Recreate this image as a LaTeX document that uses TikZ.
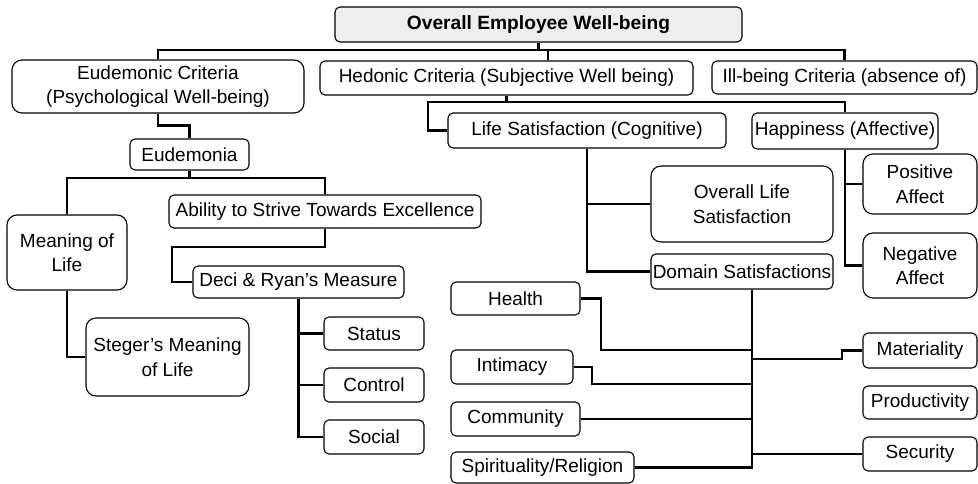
\documentclass[tikz,border=0pt]{standalone}
\usepackage{fontspec}
\setmainfont{Liberation Sans}
\tikzset{
  box/.style={draw=black, line width=1.1pt, rounded corners=5pt, fill=white, inner sep=0pt, align=center, font=\fontsize{19}{24.5}\selectfont},
  bigbox/.style={box, rounded corners=10pt},
  conn/.style={draw=black, line width=2.7pt}
}
\begin{document}
\begin{tikzpicture}[x=1pt,y=-1pt]
\useasboundingbox (0,0) rectangle (978,484);
% nodes
\node[box, minimum width=407pt, minimum height=35pt, fill=gray!13, font=\bfseries\fontsize{19.2}{22}\selectfont] (top) at (538.5,24.5) {Overall Employee Well-being};
\node[bigbox, minimum width=292pt, minimum height=53pt] (eud) at (158,86.5) {Eudemonic Criteria\\(Psychological Well-being)};
\node[box, minimum width=373pt, minimum height=34pt] (hed) at (506.5,78) {Hedonic Criteria (Subjective Well being)};
\node[box, minimum width=265pt, minimum height=33pt] (ill) at (844.5,77.5) {Ill-being Criteria (absence of)};
\node[box, minimum width=119pt, minimum height=31pt] (eudemonia) at (189.5,154.5) {Eudemonia};
\node[bigbox, minimum width=120pt, minimum height=75pt] (meaning) at (67,252.5) {Meaning of\\Life};
\node[box, minimum width=312pt, minimum height=33pt] (ability) at (325,211.5) {Ability to Strive Towards Excellence};
\node[box, minimum width=211pt, minimum height=32pt] (deci) at (298.5,282) {Deci \& Ryan's Measure};
\node[bigbox, minimum width=163pt, minimum height=78pt] (steger) at (167.5,357) {Steger's Meaning\\of Life};
\node[box, minimum width=100pt, minimum height=33pt] (status) at (374,333.5) {Status};
\node[box, minimum width=100pt, minimum height=34pt] (control) at (374,385) {Control};
\node[box, minimum width=100pt, minimum height=34pt] (social) at (374,437) {Social};
\node[box, minimum width=278pt, minimum height=35pt] (ls) at (587,130.5) {Life Satisfaction (Cognitive)};
\node[box, minimum width=186pt, minimum height=36pt] (happy) at (845,131) {Happiness (Affective)};
\node[bigbox, minimum width=182pt, minimum height=76pt] (overall) at (742,204) {Overall Life\\Satisfaction};
\node[box, minimum width=182pt, minimum height=35pt] (domain) at (742,271.5) {Domain Satisfactions};
\node[bigbox, minimum width=114pt, minimum height=60pt] (positive) at (920,184) {Positive\\Affect};
\node[bigbox, minimum width=114pt, minimum height=65pt] (negative) at (920,265.5) {Negative\\Affect};
\node[box, minimum width=129pt, minimum height=33pt] (health) at (515.5,298.5) {Health};
\node[box, minimum width=122pt, minimum height=34pt] (intimacy) at (512,367) {Intimacy};
\node[box, minimum width=129pt, minimum height=34pt] (community) at (515.5,419) {Community};
\node[box, minimum width=183pt, minimum height=31pt] (spirit) at (542.5,467.5) {Spirituality/Religion};
\node[box, minimum width=114pt, minimum height=35pt] (material) at (920,350.5) {Materiality};
\node[box, minimum width=114pt, minimum height=33pt] (product) at (920,402.5) {Productivity};
\node[box, minimum width=114pt, minimum height=34pt] (security) at (920,454) {Security};
% connectors: top level
\coordinate (topbus) at (0,50);
\draw[conn] (top.south) -- (top.south |- topbus);
\draw[conn] (eud.north) -- (eud.north |- topbus) -- (ill.north |- topbus) -- (ill.north);
\draw[conn] (hed.north -| 548,0) -- (548,50);
% eudemonic branch
\draw[conn] (eud.south) -- ++(0,12) -| (eudemonia.north);
\coordinate (eubus) at (0,178);
\draw[conn] (eudemonia.south) -- (eudemonia.south |- eubus);
\draw[conn] (meaning.north) |- (ability.north |- eubus) -- (ability.north);
\draw[conn] (meaning.south) |- (steger.west);
\coordinate (abjog) at (172,247);
\draw[conn] (ability.south) |- (abjog) |- (deci.west);
\draw[conn] (deci.south) |- (status.west);
\draw[conn] (deci.south) |- (control.west);
\draw[conn] (deci.south) |- (social.west);
% hedonic branch
\coordinate (hedbus) at (428,102);
\draw[conn] (hed.south) -- (hed.south |- hedbus);
\draw[conn] (ls.west) -| (hedbus) -| (happy.north);
\draw[conn] (ls.south) |- (overall.west);
\draw[conn] (ls.south) |- (domain.west);
\draw[conn] (happy.south) |- (positive.west);
\draw[conn] (happy.south) |- (negative.west);
% domains
\coordinate (dtop) at (domain.south -| 752,0);
\draw[conn] (dtop) |- (spirit.east);
\coordinate (hjog) at (601,350);
\draw[conn] (health.east) -| (hjog) -- (hjog -| dtop);
\coordinate (ijog) at (592,384);
\draw[conn] (intimacy.east) -| (ijog) -- (ijog -| dtop);
\draw[conn] (community.east) -- (community.east -| dtop);
\coordinate (mjog) at (842,359);
\draw[conn] (mjog -| dtop) -- (mjog) |- (material.west);
\draw[conn] (security.west -| dtop) -- (security.west);
\end{tikzpicture}
\end{document}
